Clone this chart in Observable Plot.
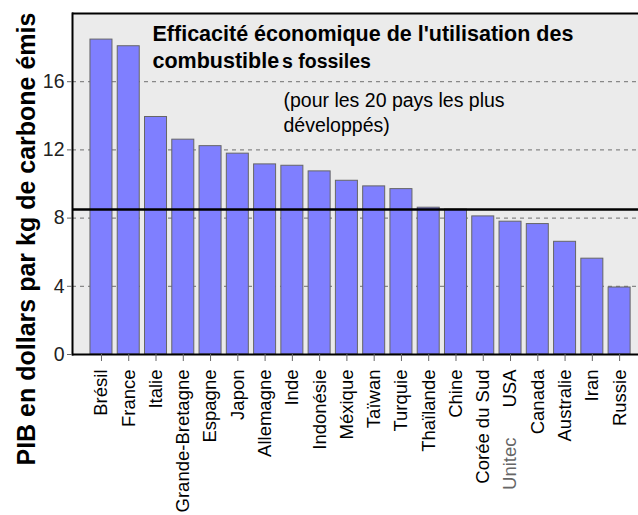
<!DOCTYPE html>
<html>
<head>
<meta charset="utf-8">
<script src="https://cdn.jsdelivr.net/npm/d3@7"></script>
<script src="https://cdn.jsdelivr.net/npm/@observablehq/plot@0.6"></script>
<style>
  html, body { margin: 0; padding: 0; background: white; overflow: hidden; }
  svg { display: block; }
</style>
</head>
<body>
<div id="chart"></div>
<script>
const countries = ["Brésil", "France", "Italie", "Grande-Bretagne", "Espagne", "Japon", "Allemagne", "Inde", "Indonésie", "Méxique", "Taïwan", "Turquie", "Thaïlande", "Chine", "Corée du Sud", "USA", "Canada", "Australie", "Iran", "Russie"];
const values = [18.47, 18.08, 13.93, 12.6, 12.22, 11.78, 11.15, 11.07, 10.74, 10.19, 9.86, 9.7, 8.61, 8.5, 8.1, 7.79, 7.65, 6.61, 5.62, 3.93];
const referenceLine = 8.5;
const yTicks = [0, 4, 8, 12, 16];
const gridTicks = [4, 8, 12, 16];
const yDomain = [0, 20];
const titleLine1 = "Efficacité économique de l'utilisation des";
const titleLine2a = "combustible";
const titleLine2b = "s fossiles";
const subtitleLines = ["(pour les 20 pays les plus", "développés)"];
const yLabel = "PIB en dollars par kg de carbone émis";
const hiddenLabel = {country: "USA", text: "Unitec"};

const data = countries.map((c, i) => ({country: c, value: values[i]}));
const font = "'Liberation Sans', Arial, Helvetica, sans-serif";

const chart = Plot.plot({
  width: 638,
  height: 515,
  marginTop: 13,
  marginBottom: 161,
  marginLeft: 72,
  marginRight: 0,
  style: {fontFamily: font, background: "white", overflow: "visible"},
  x: {domain: countries, paddingInner: 0.193, paddingOuter: 0.474, align: 0.695, round: false, label: null},
  y: {domain: yDomain, label: null},
  marks: [
    Plot.frame({fill: "#ebebeb", stroke: null}),
    Plot.gridY(gridTicks, {stroke: "#888", strokeOpacity: 1, strokeDasharray: "4,4", strokeWidth: 1.2}),
    Plot.barY(data, {x: "country", y: "value", fill: "#7f7fff", stroke: "#666", strokeWidth: 1}),
    Plot.ruleY([referenceLine], {stroke: "black", strokeWidth: 2.5}),
    Plot.ruleY([yDomain[0]], {stroke: "black", strokeWidth: 2}),
    Plot.ruleY([yDomain[1]], {stroke: "black", strokeWidth: 2}),
    Plot.frame({anchor: "left", stroke: "black", strokeWidth: 2}),
    Plot.axisY(yTicks, {tickSize: 5, tickPadding: 3, fontSize: 19.5, stroke: "#666", fill: "#222", label: null}),
    Plot.axisX({tickSize: 7, tickPadding: 8, tickRotate: -90, fontSize: 18.5, stroke: "#666", fill: "black", label: null}),
    Plot.text([hiddenLabel], {x: "country", text: "text", frameAnchor: "bottom", rotate: -90, textAnchor: "end", lineAnchor: "middle", dy: 83, fontSize: 18.5, fill: "#666"}),
    Plot.text([titleLine1], {frameAnchor: "top-left", textAnchor: "start", lineAnchor: "bottom", dx: 80, dy: 27, fontSize: 21.5, fontWeight: "bold", fill: "black"}),
    Plot.text([titleLine2a], {frameAnchor: "top-left", textAnchor: "start", lineAnchor: "bottom", dx: 80, dy: 54, fontSize: 21.5, fontWeight: "bold", fill: "black"}),
    Plot.text([titleLine2b], {frameAnchor: "top-left", textAnchor: "start", lineAnchor: "bottom", dx: 209.5, dy: 54, fontSize: 19.5, fontWeight: "bold", fill: "black"}),
    Plot.text([subtitleLines.join("\n")], {frameAnchor: "top-left", textAnchor: "start", lineAnchor: "bottom", lineHeight: 1.28, dx: 211, dy: 118, fontSize: 19.5, fill: "black"}),
    Plot.text([yLabel], {frameAnchor: "bottom-left", rotate: -90, textAnchor: "start", lineAnchor: "middle", dx: -46, dy: 111, fontSize: 25, fontWeight: "bold", fill: "black"})
  ]
});
document.getElementById("chart").appendChild(chart);
</script>
</body>
</html>
